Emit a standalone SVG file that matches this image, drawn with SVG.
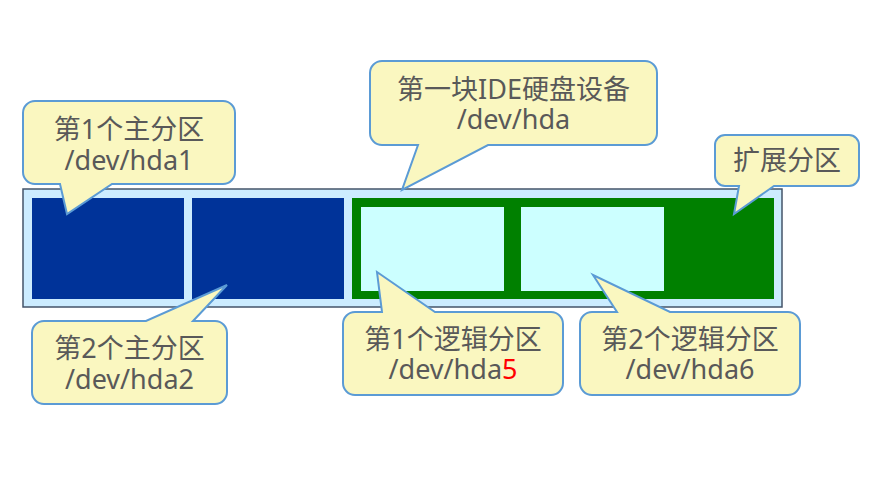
<svg xmlns="http://www.w3.org/2000/svg" width="870" height="483" viewBox="0 0 870 483">
<style>
.c{fill:#FAF7C0;stroke:#5B9BD5;stroke-width:2;stroke-linejoin:miter}
.t{font-family:"Noto Sans","Noto Sans CJK SC",sans-serif;font-size:27px;fill:#595959;text-anchor:middle}
</style>
<rect width="870" height="483" fill="#fff"/>
<g id="disk">
<rect x="23" y="189" width="759" height="118" fill="#CCECFF" stroke="#44546A" stroke-width="1.5"/>
<rect id="p1" x="32" y="198" width="152" height="101" fill="#003399"/>
<rect id="p2" x="192" y="198" width="152" height="101" fill="#003399"/>
<rect id="ext" x="352" y="198" width="422" height="101" fill="#008000"/>
<rect id="l5" x="361" y="207" width="143" height="84" fill="#CCFFFF"/>
<rect id="l6" x="521" y="207" width="143" height="84" fill="#CCFFFF"/>
</g>
<g id="callout-hda1">
<path class="c" d="M35,101 H223 A12,12 0 0 1 235,113 V172 A12,12 0 0 1 223,184 H112 L67,214 L60,184 H35 A12,12 0 0 1 23,172 V113 A12,12 0 0 1 35,101 Z"/>
<text class="t" x="129" y="139">第1个主分区</text>
<text class="t" x="129" y="170">/dev/hda1</text>
</g>
<g id="callout-hda">
<path class="c" d="M382,61 H645 A12,12 0 0 1 657,73 V133 A12,12 0 0 1 645,145 H488 L402,190 L418,145 H382 A12,12 0 0 1 370,133 V73 A12,12 0 0 1 382,61 Z"/>
<text class="t" x="513.5" y="99">第一块IDE硬盘设备</text>
<text class="t" x="513.5" y="129">/dev/hda</text>
</g>
<g id="callout-ext">
<path class="c" d="M725,135 H849 A10,10 0 0 1 859,145 V176 A10,10 0 0 1 849,186 H774 L734,214 L739,186 H725 A10,10 0 0 1 715,176 V145 A10,10 0 0 1 725,135 Z"/>
<text class="t" x="787" y="170">扩展分区</text>
</g>
<g id="callout-hda2">
<path class="c" d="M44,321 H146 L227,285 L193,321 H215 A12,12 0 0 1 227,333 V392 A12,12 0 0 1 215,404 H44 A12,12 0 0 1 32,392 V333 A12,12 0 0 1 44,321 Z"/>
<text class="t" x="129.5" y="358">第2个主分区</text>
<text class="t" x="129.5" y="389">/dev/hda2</text>
</g>
<g id="callout-hda5">
<path class="c" d="M355,312 H382 L377,272 L435,312 H551 A12,12 0 0 1 563,324 V383 A12,12 0 0 1 551,395 H355 A12,12 0 0 1 343,383 V324 A12,12 0 0 1 355,312 Z"/>
<text class="t" x="453" y="349">第1个逻辑分区</text>
<text class="t" x="453" y="379">/dev/hda<tspan fill="#FF0000">5</tspan></text>
</g>
<g id="callout-hda6">
<path class="c" d="M592,312 H617 L593,275 L670,312 H788 A12,12 0 0 1 800,324 V383 A12,12 0 0 1 788,395 H592 A12,12 0 0 1 580,383 V324 A12,12 0 0 1 592,312 Z"/>
<text class="t" x="690" y="349">第2个逻辑分区</text>
<text class="t" x="690" y="379">/dev/hda6</text>
</g>
<g id="connectors"></g>
</svg>
